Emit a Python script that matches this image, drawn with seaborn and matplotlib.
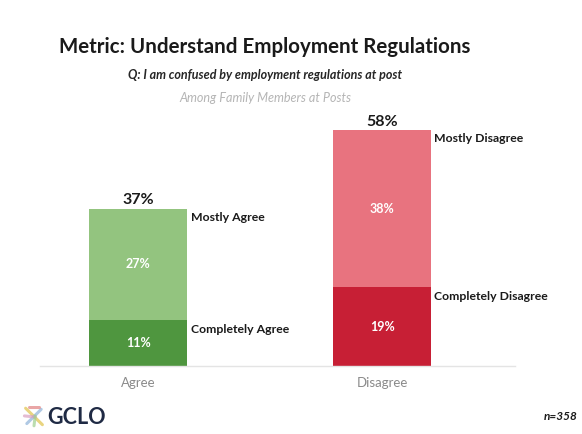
import matplotlib
matplotlib.use("Agg")
import matplotlib.pyplot as plt
import seaborn as sns
import pandas as pd

# Survey results (percent of respondents)
categories = ["Agree", "Disagree"]
completely = [11, 19]
mostly = [27, 38]
totals_label = ["37%", "58%"]
mostly_names = ["Mostly Agree", "Mostly Disagree"]
completely_names = ["Completely Agree", "Completely Disagree"]

light_colors = ["#93c47f", "#e8737f"]
dark_colors = ["#4f963f", "#c71f35"]

sns.set_theme(style="white")
plt.rcParams["font.family"] = ["Lato", "DejaVu Sans"]

df = pd.DataFrame({
    "category": categories,
    "completely": completely,
    "mostly": mostly,
})
df["total"] = df["completely"] + df["mostly"]

fig = plt.figure(figsize=(5.82, 4.34), dpi=100)
ax = fig.add_axes([40 / 582, 68 / 434, 475 / 582, 290 / 434])

# stacked bars: full height in the light shade, bottom segment in the dark shade
sns.barplot(data=df, x="category", y="total", hue="category",
            palette=light_colors, width=0.4, legend=False, ax=ax,
            saturation=1, linewidth=0)
sns.barplot(data=df, x="category", y="completely", hue="category",
            palette=dark_colors, width=0.4, legend=False, ax=ax,
            saturation=1, linewidth=0)

ax.set_xlim(-0.402, 1.545)
ax.set_ylim(0, 70)
ax.set_xlabel("")
ax.set_ylabel("")
ax.set_yticks([])
for s in ["top", "right", "left"]:
    ax.spines[s].set_visible(False)
ax.spines["bottom"].set_color("#e4e4e4")
ax.spines["bottom"].set_linewidth(1.0)
ax.tick_params(axis="x", length=0, pad=8, labelsize=9.5, labelcolor="#8a8a8a")

for i in range(len(categories)):
    c = completely[i]
    m = mostly[i]
    ax.text(i, c / 2, f"{c}%", ha="center", va="center", color="white",
            fontsize=9, fontweight="bold")
    ax.text(i, c + m / 2, f"{m}%", ha="center", va="center", color="white",
            fontsize=9, fontweight="bold")
    ax.text(i, c + m + 0.3, totals_label[i], ha="center", va="bottom",
            color="#1a1a1a", fontsize=11.5, fontweight="bold")
    ax.text(i + 0.215, c + m - 0.8, mostly_names[i], ha="left", va="top",
            color="#1a1a1a", fontsize=8.8, fontweight="bold")
    ax.text(i + 0.215, c - 0.9, completely_names[i], ha="left", va="top",
            color="#1a1a1a", fontsize=8.8, fontweight="bold")

# headings
cx = 265 / 582
fig.text(cx, 1 - 47 / 434, "Metric: Understand Employment Regulations",
         ha="center", va="center", fontsize=14.8, fontweight="bold",
         color="#1a1a1a")
fig.text(cx, 1 - 75 / 434, "Q: I am confused by employment regulations at post",
         ha="center", va="center", fontsize=9, fontweight="bold",
         style="italic", color="#262626")
fig.text(cx, 1 - 98 / 434, "Among Family Members at Posts",
         ha="center", va="center", fontsize=9.1, style="italic",
         color="#b5b5b5")

# footer: logo mark and sample size
logo_ax = fig.add_axes([22 / 582, 1 - 428 / 434, 24 / 582, 22 / 434])
logo_ax.set_xlim(0, 1)
logo_ax.set_ylim(0, 1)
logo_ax.axis("off")
for (x0, y0, x1, y1, col) in [
    (0.15, 0.9, 0.85, 0.15, "#e0c34a"),
    (0.2, 0.2, 0.8, 0.85, "#8fb3d9"),
    (0.1, 0.55, 0.55, 0.5, "#d9a0c0"),
    (0.5, 0.1, 0.55, 0.55, "#9fcf8f"),
    (0.3, 0.95, 0.7, 0.95, "#e08080"),
]:
    logo_ax.plot([x0, x1], [y0, y1], color=col, lw=2.2, solid_capstyle="round",
                 alpha=0.7)
fig.text(47 / 582, 1 - 417 / 434, "GCLO", ha="left", va="center",
         fontsize=15.5, fontweight="bold", color="#1f2a44")
fig.text(578 / 582, 1 - 416 / 434, "n=358", ha="right", va="center",
         fontsize=8.5, fontweight="bold", style="italic", color="#1a1a1a")

fig.savefig("out.png", dpi=100)
